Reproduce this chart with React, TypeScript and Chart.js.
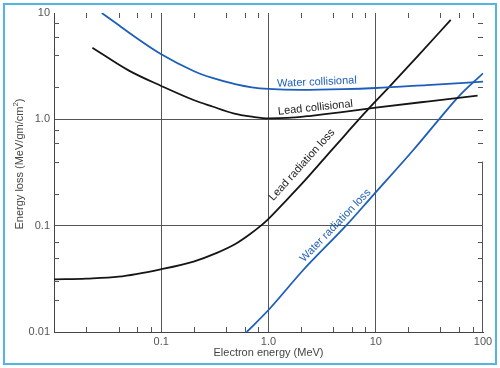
import React, { useEffect, useRef } from 'react';
import { Chart, registerables } from 'chart.js';

Chart.register(...registerables);

// ---- axis ticks ----
const X_MAJOR = [0.01, 0.1, 1, 10, 100];
const X_LABELS = ['', '0.1', '1.0', '10', '100'];
const X_GRID = [0.1, 1, 10];
const X_MINOR = [0.02, 0.04, 0.06, 0.08, 0.2, 0.4, 0.6, 0.8, 2, 4, 6, 8, 20, 40, 60, 80];
const Y_MAJOR = [0.01, 0.1, 1, 10];
const Y_LABELS = ['0.01', '0.1', '1.0', '10'];
const Y_GRID = [0.1, 1];
const Y_MINOR = [0.02, 0.03, 0.05, 0.07, 0.2, 0.4, 0.6, 0.8, 2, 4, 6, 8];

// ---- series (energy MeV, loss MeV/gm/cm2) ----
const waterCollE = [0.0279, 0.04, 0.055, 0.1, 0.2, 0.3, 0.5, 0.7, 1, 2, 5, 10, 30, 100];
const waterCollV = [10, 7.7, 6.1, 4.09, 2.85, 2.45, 2.13, 2.0, 1.93, 1.89, 1.92, 1.97, 2.1, 2.26];

const leadCollE = [0.0228, 0.05, 0.1, 0.2, 0.3, 0.47, 0.7, 1.0, 1.5, 2.5, 4.64, 10, 30, 89];
const leadCollV = [4.72, 2.87, 2.06, 1.52, 1.32, 1.14, 1.06, 1.02, 1.03, 1.08, 1.16, 1.286, 1.47, 1.668];

const leadRadE = [0.01, 0.02, 0.04, 0.1, 0.2, 0.33, 0.5, 0.67, 0.85, 1.0, 1.4, 2.04, 3.43, 5, 6.9, 8.5, 13.1, 25, 50];
const leadRadV = [0.0313, 0.0318, 0.0331, 0.039, 0.046, 0.0555, 0.068, 0.083, 0.1, 0.116, 0.165, 0.247, 0.446, 0.685, 0.99, 1.25, 1.98, 4.0, 8.6];

const waterRadE = [0.626, 1.0, 2.11, 5.28, 9.48, 22.4, 38.9, 58.9, 100];
const waterRadV = [0.01, 0.0161, 0.0383, 0.1, 0.194, 0.515, 1.0, 1.63, 2.71];

// ---- curve labels ----
const LABEL_TEXT = ['Water collisional', 'Lead collisional', 'Lead radiation loss', 'Water radiation loss'];
const LABEL_X = [2.83, 2.74, 2.05, 4.21];
const LABEL_Y = [2.24, 1.287, 0.372, 0.1004];
const LABEL_ANGLE = [-2.5, -6, -48, -46];
const LABEL_COLOR = ['#2160b8', '#1a1a1a', '#1a1a1a', '#2160b8'];

const BLUE = '#1d5fb8';
const BLACK = '#151515';
const FONT = '"Liberation Sans", Arial, Helvetica, sans-serif';

const pts = (xs: number[], ys: number[]) => xs.map((x, i) => ({ x, y: ys[i] }));

const overlay = {
  id: 'overlay',
  afterDraw(chart: any) {
    const { ctx, chartArea: a, scales } = chart;
    const x = scales.x;
    const y = scales.y;
    ctx.save();
    ctx.strokeStyle = '#555';
    ctx.lineWidth = 1;
    ctx.beginPath();
    for (const v of X_MINOR) {
      const px = Math.round(x.getPixelForValue(v)) + 0.5;
      ctx.moveTo(px, a.bottom);
      ctx.lineTo(px, a.bottom - 5);
      ctx.moveTo(px, a.top);
      ctx.lineTo(px, a.top + 5);
    }
    for (const v of Y_MINOR) {
      const py = Math.round(y.getPixelForValue(v)) + 0.5;
      ctx.moveTo(a.left, py);
      ctx.lineTo(a.left + 5, py);
      ctx.moveTo(a.right, py);
      ctx.lineTo(a.right - 5, py);
    }
    // partial right edge line
    const rx = Math.round(x.getPixelForValue(100)) - 0.5;
    ctx.moveTo(rx, y.getPixelForValue(0.01));
    ctx.lineTo(rx, y.getPixelForValue(0.4));
    ctx.stroke();

    // curve labels
    ctx.font = `11px ${FONT}`;
    ctx.textAlign = 'center';
    ctx.textBaseline = 'middle';
    LABEL_TEXT.forEach((t, i) => {
      ctx.save();
      ctx.translate(x.getPixelForValue(LABEL_X[i]), y.getPixelForValue(LABEL_Y[i]));
      ctx.rotate((LABEL_ANGLE[i] * Math.PI) / 180);
      ctx.fillStyle = LABEL_COLOR[i];
      ctx.fillText(t, 0, 0);
      ctx.restore();
    });

    // axis titles
    ctx.fillStyle = '#444';
    ctx.textAlign = 'center';
    ctx.textBaseline = 'middle';
    ctx.font = `11px ${FONT}`;
    ctx.fillText('Electron energy (MeV)', (a.left + a.right) / 2, 353);

    ctx.save();
    ctx.translate(18.5, 164);
    ctx.rotate(-Math.PI / 2);
    const main = 'Energy loss (MeV/gm/cm';
    const sup = '2';
    const tail = ')';
    ctx.font = `11px ${FONT}`;
    const wm = ctx.measureText(main).width;
    const wt = ctx.measureText(tail).width;
    ctx.font = `8px ${FONT}`;
    const ws = ctx.measureText(sup).width;
    let sx = -(wm + ws + wt) / 2;
    ctx.textAlign = 'left';
    ctx.textBaseline = 'alphabetic';
    ctx.font = `11px ${FONT}`;
    ctx.fillText(main, sx, 4);
    sx += wm;
    ctx.font = `8px ${FONT}`;
    ctx.fillText(sup, sx, -1);
    sx += ws;
    ctx.font = `11px ${FONT}`;
    ctx.fillText(tail, sx, 4);
    ctx.restore();

    ctx.restore();
  },
};

export default function App() {
  const ref = useRef<HTMLCanvasElement | null>(null);

  useEffect(() => {
    if (!ref.current) return;
    const line = (data: any, color: string) => ({
      data,
      borderColor: color,
      backgroundColor: color,
      borderWidth: 1.8,
      pointRadius: 0,
      showLine: true,
      fill: false,
      cubicInterpolationMode: 'monotone' as const,
    });
    const chart = new Chart(ref.current, {
      type: 'scatter',
      data: {
        datasets: [
          line(pts(waterCollE, waterCollV), BLUE),
          line(pts(leadCollE, leadCollV), BLACK),
          line(pts(leadRadE, leadRadV), BLACK),
          line(pts(waterRadE, waterRadV), BLUE),
        ],
      },
      options: {
        animation: false,
        responsive: false,
        devicePixelRatio: 1,
        layout: { padding: { left: 0, right: 17, top: 13, bottom: 0 } },
        plugins: { legend: { display: false }, tooltip: { enabled: false } },
        scales: {
          x: {
            type: 'logarithmic',
            min: 0.01,
            max: 100,
            position: 'bottom',
            afterBuildTicks: (s: any) => {
              s.ticks = X_MAJOR.map((v) => ({ value: v }));
            },
            afterFit: (s: any) => {
              s.height = 36;
            },
            ticks: {
              autoSkip: false,
              maxRotation: 0,
              padding: 3,
              color: '#555',
              font: { family: FONT, size: 11 },
              callback: (_v: any, i: number) => X_LABELS[i],
            },
            grid: {
              drawTicks: false,
              lineWidth: 1,
              color: (c: any) => (c.tick && X_GRID.includes(c.tick.value) ? '#555' : 'rgba(0,0,0,0)'),
            },
            border: { display: true, color: '#444', width: 1 },
          },
          y: {
            type: 'logarithmic',
            min: 0.01,
            max: 10,
            position: 'left',
            afterBuildTicks: (s: any) => {
              s.ticks = Y_MAJOR.map((v) => ({ value: v }));
            },
            afterFit: (s: any) => {
              s.width = 54;
            },
            ticks: {
              autoSkip: false,
              padding: 4,
              color: '#555',
              font: { family: FONT, size: 11 },
              callback: (_v: any, i: number) => Y_LABELS[i],
            },
            grid: {
              drawTicks: false,
              lineWidth: 1,
              color: (c: any) => (c.tick && Y_GRID.includes(c.tick.value) ? '#555' : 'rgba(0,0,0,0)'),
            },
            border: { display: true, color: '#444', width: 1 },
          },
        },
      },
      plugins: [overlay],
    });
    return () => chart.destroy();
  }, []);

  return (
    <div style={{ position: 'fixed', left: 0, top: 0, width: 500, height: 368, background: '#fff' }}>
      <canvas ref={ref} width={500} height={368} style={{ position: 'absolute', left: 0, top: 0, width: 500, height: 368 }} />
      <div
        style={{
          position: 'absolute',
          left: 3,
          top: 3,
          width: 494,
          height: 362,
          boxSizing: 'border-box',
          border: '2px solid #55b4e6',
          pointerEvents: 'none',
        }}
      />
    </div>
  );
}
